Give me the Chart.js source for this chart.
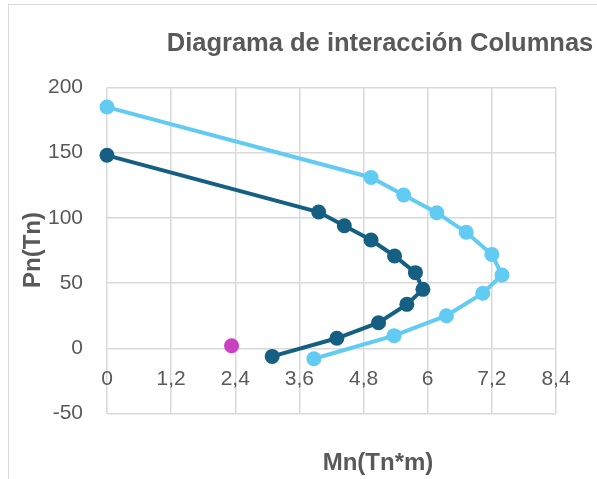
<!DOCTYPE html>
<html lang="es">
  <head>
    <meta charset="UTF-8" />
    <title>Diagrama de interacción Columnas</title>
    <script src="https://cdn.jsdelivr.net/npm/chart.js"></script>
    <style>
      html, body { margin: 0; padding: 0; background: #fff; }
      canvas { display: block; }
    </style>
  </head>
  <body>
    <canvas id="myChart" width="597" height="479"></canvas>
    <script>
      // datos: Mn (Tn*m) y Pn (Tn)
      var nominalMn = [0, 4.94, 5.55, 6.17, 6.72, 7.2, 7.39, 7.03, 6.35, 5.37, 3.87]
      var nominalPn = [185, 131, 117.6, 104, 89, 72, 56.2, 42.2, 25, 9.7, -8]
      var disenoMn = [0, 3.96, 4.44, 4.94, 5.38, 5.77, 5.91, 5.61, 5.08, 4.3, 3.09]
      var disenoPn = [148, 104.5, 94, 83, 70.8, 58, 45.2, 33.7, 19.6, 7.7, -6.2]
      var cargaMn = [2.33]
      var cargaPn = [2]
      var xTicks = [0, 1.2, 2.4, 3.6, 4.8, 6, 7.2, 8.4]
      var yTicks = [-50, 0, 50, 100, 150, 200]

      function toPoints(xs, ys) {
        return xs.map(function (x, i) {
          return { x: x, y: ys[i] }
        })
      }

      var textColor = "#595959"
      var gridColor = "#d9d9d9"
      var fontFamily = "'Liberation Sans', Arial, sans-serif"

      // marco y títulos
      var decor = {
        id: "decor",
        beforeDraw: function (chart) {
          var c = chart.ctx
          c.save()
          c.strokeStyle = gridColor
          c.lineWidth = 1
          c.strokeRect(8.5, 4.5, 800, 800)
          c.restore()
        },
        afterDraw: function (chart) {
          var c = chart.ctx
          c.save()
          c.fillStyle = textColor
          c.textBaseline = "alphabetic"
          c.textAlign = "center"
          c.font = "bold 25.5px " + fontFamily
          c.fillText("Diagrama de interacción Columnas", 380, 51)
          c.font = "bold 24px " + fontFamily
          c.fillText("Mn(Tn*m)", 378, 470)
          c.translate(39.5, 250)
          c.rotate(-Math.PI / 2)
          c.fillText("Pn(Tn)", 0, 0)
          c.restore()
        },
      }

      var ctx = document.getElementById("myChart").getContext("2d")
      var myChart = new Chart(ctx, {
        type: "scatter",
        data: {
          datasets: [
            {
              label: "Pn",
              data: toPoints(nominalMn, nominalPn),
              borderColor: "#61cbf3",
              backgroundColor: "#61cbf3",
            },
            {
              label: "φPn",
              data: toPoints(disenoMn, disenoPn),
              borderColor: "#156082",
              backgroundColor: "#156082",
            },
            {
              label: "Carga",
              data: toPoints(cargaMn, cargaPn),
              borderColor: "#cb40c0",
              backgroundColor: "#cb40c0",
              showLine: false,
            },
          ],
        },
        options: {
          responsive: false,
          animation: false,
          clip: false,
          showLine: true,
          elements: {
            line: { borderWidth: 4, tension: 0 },
            point: { radius: 7.5, borderWidth: 0, hoverRadius: 7.5 },
          },
          layout: {
            padding: { top: 87.5, right: 41, bottom: 65.5, left: 0 },
          },
          scales: {
            x: {
              type: "linear",
              min: 0,
              max: 8.4,
              position: { y: 0 },
              afterBuildTicks: function (scale) {
                scale.ticks = xTicks.map(function (v) {
                  return { value: v }
                })
              },
              grid: { color: gridColor, lineWidth: 1.5, drawTicks: false },
              border: { display: false },
              ticks: {
                color: textColor,
                padding: 18,
                maxRotation: 0,
                autoSkip: false,
                font: { family: fontFamily, size: 21 },
                callback: function (v) {
                  return String(Math.round(v * 10) / 10).replace(".", ",")
                },
              },
            },
            y: {
              type: "linear",
              min: -50,
              max: 200,
              afterBuildTicks: function (scale) {
                scale.ticks = yTicks.map(function (v) {
                  return { value: v }
                })
              },
              afterFit: function (scale) {
                scale.width = 107
              },
              grid: { color: gridColor, lineWidth: 1.5, drawTicks: false },
              border: { display: false },
              ticks: {
                color: textColor,
                padding: 24,
                font: { family: fontFamily, size: 21 },
              },
            },
          },
          plugins: {
            legend: { display: false },
            tooltip: { enabled: false },
          },
        },
        plugins: [decor],
      })
    </script>
  </body>
</html>
